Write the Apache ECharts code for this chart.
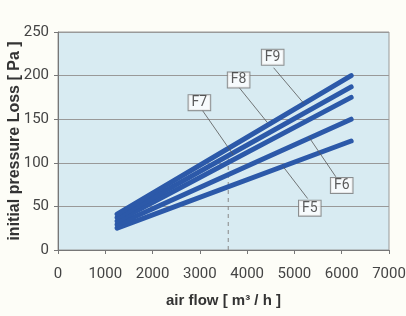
<!DOCTYPE html>
<html><head><meta charset="utf-8">
<script src="https://cdn.jsdelivr.net/npm/echarts@6/dist/echarts.min.js"></script>
<style>html,body{margin:0;padding:0;background:#fdfdf7;}#c{width:406px;height:316px;}</style>
</head><body><div id="c"></div>
<script>
const seriesNames = ['F5','F6','F7','F8','F9'];
const flowRange = [1250, 6200];
const startValues = [25, 29, 33, 37, 41];
const endValues = [125, 150, 175, 187, 200];
const xTicks = [0,1000,2000,3000,4000,5000,6000,7000];
const yTicks = [0,50,100,150,200,250];
// label boxes (data coords) and leader lines [from, to]
const labelNames = ['F9','F8','F7','F6','F5'];
const labelPos = [[4540,221],[3820,195],[2990,169],[6000,74],[5325,48]];
const leaderFrom = [[4560,209],[3820,187],[3055,160],[5875,84],[5280,59]];
const leaderTo = [[5200,168],[4430,146],[3710,109],[5300,130],[4770,95]];
const refFlow = 3600;
const refTop = 105;

const tickFont = 'Roboto';
const lineColor = '#2c59a9';
const series = seriesNames.map((n,i)=>({
  name:n, type:'line', symbol:'none', z:3,
  lineStyle:{color:lineColor,width:5,cap:'round'},
  data:[[flowRange[0],startValues[i]],[flowRange[1],endValues[i]]]
}));
series.push({
  type:'line', symbol:'none', z:2,
  lineStyle:{color:'#888',width:1,type:[4,4]},
  data:[[refFlow,0],[refFlow,refTop]]
});
series.push({
  type:'lines', coordinateSystem:'cartesian2d', z:4,
  lineStyle:{color:'#555',width:0.8,opacity:1},
  data: leaderFrom.map((f,i)=>({coords:[f,leaderTo[i]]}))
});
series.push({
  type:'scatter', symbolSize:0, z:5,
  data: labelPos.map((p,i)=>({value:p,name:labelNames[i]})),
  label:{show:true,position:'inside',formatter:'{b}',color:'#333',fontSize:14,
    fontFamily:tickFont,backgroundColor:'#fff',borderColor:'#777',borderWidth:1,
    padding:[1,3,0,3]}
});

const chart = echarts.init(document.getElementById('c'));
chart.setOption({
  animation:false,
  grid:{left:58,right:17,top:32,bottom:66,containLabel:false,outerBoundsMode:'none',
    show:true,backgroundColor:'#d8ebf2',borderColor:'#999',borderWidth:1},
  xAxis:{type:'value',min:0,max:7000,interval:1000,
    name:'air flow [ m³ / h ]',nameLocation:'middle',nameGap:43,nameMoveOverlap:false,
    nameTextStyle:{fontFamily:'Liberation Sans',fontWeight:'bold',fontSize:15,color:'#333'},
    axisLine:{show:true,lineStyle:{color:'#777'}},
    axisTick:{show:true,length:4,lineStyle:{color:'#777'}},
    axisLabel:{fontFamily:tickFont,fontSize:15,color:'#444',margin:17,
      formatter:v=>xTicks.includes(v)?String(v):''},
    splitLine:{show:false}},
  yAxis:{type:'value',min:0,max:250,interval:50,
    name:'initial pressure Loss [ Pa ]',nameLocation:'middle',nameGap:35,nameMoveOverlap:false,
    nameTextStyle:{fontFamily:'Liberation Sans',fontWeight:'bold',fontSize:16,color:'#333'},
    axisLine:{show:true,lineStyle:{color:'#777'}},
    axisTick:{show:true,length:4,lineStyle:{color:'#777'}},
    axisLabel:{fontFamily:tickFont,fontSize:15,color:'#444',margin:9,
      formatter:v=>yTicks.includes(v)?String(v):''},
    splitLine:{show:true,lineStyle:{color:'#999',width:1}}},
  series
});
</script></body></html>
